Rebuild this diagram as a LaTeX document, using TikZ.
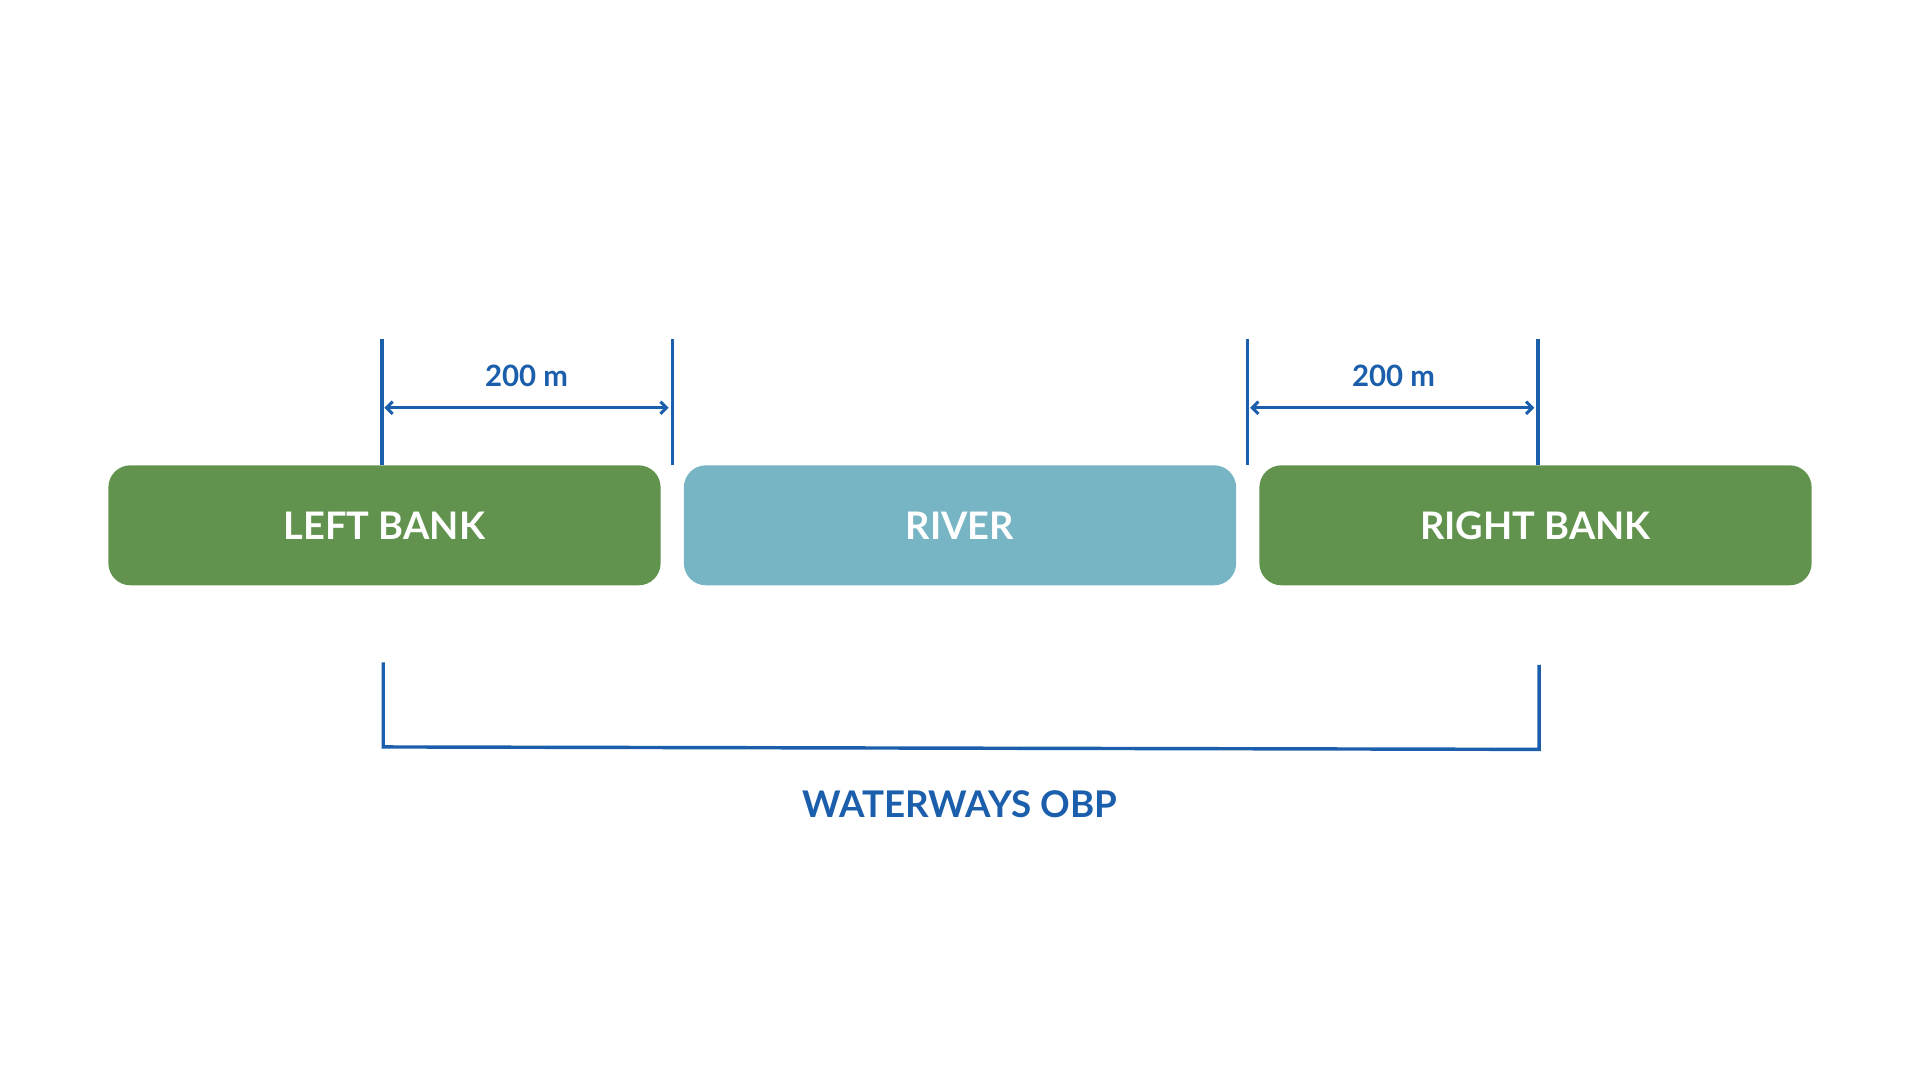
\documentclass[tikz,border=0pt]{standalone}
\usepackage{fontspec}
\setmainfont{Lato}
\usetikzlibrary{arrows.meta}
\definecolor{bankg}{HTML}{62934E}
\definecolor{riverb}{HTML}{78B5C4}
\definecolor{dimb}{HTML}{1B5EAB}
\begin{document}
\begin{tikzpicture}[x=1pt,y=-1pt,
  region/.style={rounded corners=18pt,text=white,font=\fontsize{31}{31}\selectfont\bfseries,minimum width=451pt,minimum height=98pt,inner sep=0pt},
  dim/.style={draw=dimb,line width=2.8pt},
  dimarrow/.style={dim,{Straight Barb[length=5pt,width=10pt,line width=2.4pt]}-{Straight Barb[length=5pt,width=10pt,line width=2.4pt]}},
  dimlbl/.style={text=dimb,font=\fontsize{24}{24}\selectfont\bfseries}]
\useasboundingbox (0,0) rectangle (1568,882);
\node[region,fill=bankg] (lb) at (314,429) {LEFT BANK};
\node[region,fill=riverb] (rv) at (784,429) {RIVER};
\node[region,fill=bankg] (rb) at (1254,429) {RIGHT BANK};
\coordinate (a1) at (312,277); \coordinate (a2) at (312,380);
\coordinate (b1) at (549,277); \coordinate (b2) at (549,380);
\coordinate (c1) at (1019,277); \coordinate (c2) at (1019,380);
\coordinate (d1) at (1256,277); \coordinate (d2) at (1256,380);
\draw[dim] (a1)--(a2); \draw[dim] (b1)--(b2);
\draw[dim] (c1)--(c2); \draw[dim] (d1)--(d2);
\coordinate (la) at (314,333); \coordinate (lb2) at (546,333);
\coordinate (ra) at (1021,333); \coordinate (rb2) at (1253,333);
\draw[dimarrow] (la)--(lb2);
\draw[dimarrow] (ra)--(rb2);
\node[dimlbl] (t1) at (430,307) {200 m};
\node[dimlbl] (t2) at (1138,307) {200 m};
\coordinate (e1) at (313,541); \coordinate (e2) at (313,610);
\coordinate (e3) at (1257,612); \coordinate (e4) at (1257,543);
\draw[dim] (e1)--(e2)--(e3)--(e4);
\node[dimlbl,font=\fontsize{30}{30}\selectfont\bfseries] (w) at (784,657) {WATERWAYS OBP};
\end{tikzpicture}
\end{document}
